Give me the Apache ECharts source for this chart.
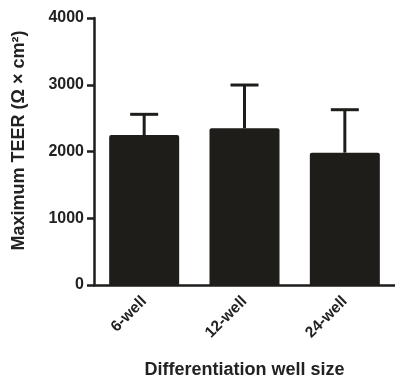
<!DOCTYPE html>
<html><head><meta charset="utf-8">
<script src="https://cdn.jsdelivr.net/npm/echarts@6/dist/echarts.min.js"></script>
<style>html,body{margin:0;padding:0;background:#fff}#c{width:395px;height:387px}</style>
</head><body><div id="c"></div>
<script>
const categories = ['6-well', '12-well', '24-well'];
const means = [2247, 2347, 1982];
const upperErr = [2557, 2996, 2626];
const yTicks = [0, 1000, 2000, 3000, 4000];

const dark = '#1f1d1a';
const chart = echarts.init(document.getElementById('c'));
chart.setOption({
  animation: false,
  grid: { left: 94, top: 18, width: 303, height: 267 },
  xAxis: {
    type: 'category', data: categories,
    name: 'Differentiation well size', nameLocation: 'middle', nameGap: 76,
    nameTextStyle: { fontFamily: 'Liberation Sans', fontWeight: 'bold', fontSize: 18, color: '#222' },
    axisLine: { lineStyle: { color: dark, width: 2.5 } },
    axisTick: { alignWithLabel: true, length: 6, lineStyle: { color: dark, width: 2.5 } },
    axisLabel: { rotate: 45, margin: 14, fontFamily: 'Liberation Sans', fontWeight: 'bold', fontSize: 15.5, color: '#222' }
  },
  yAxis: {
    type: 'value', min: 0, max: 4000, interval: 1000,
    name: 'Maximum TEER (Ω × cm²)', nameLocation: 'middle', nameGap: 66, nameRotate: 90,
    nameTextStyle: { fontFamily: 'Liberation Sans', fontWeight: 'bold', fontSize: 18, color: '#222', padding: [0, 0, 0, 22] },
    axisLine: { show: true, lineStyle: { color: dark, width: 2.5 } },
    axisTick: { show: true, length: 7, lineStyle: { color: dark, width: 2.5 } },
    splitLine: { show: false },
    axisLabel: { margin: 10, fontFamily: 'Liberation Sans', fontWeight: 'bold', fontSize: 16, color: '#222',
      formatter: v => yTicks.includes(v) ? String(v) : '' }
  },
  series: [
    { type: 'bar', data: means, barWidth: 70, itemStyle: { color: dark, borderRadius: [2, 2, 0, 0] }, z: 2 },
    {
      type: 'custom', z: 3,
      data: categories.map((c, i) => [i, means[i], upperErr[i]]),
      renderItem: function (params, api) {
        const base = api.coord([api.value(0), api.value(1)]);
        const top = api.coord([api.value(0), api.value(2)]);
        const st = { stroke: dark, lineWidth: 3 };
        return { type: 'group', children: [
          { type: 'line', shape: { x1: base[0], y1: base[1], x2: top[0], y2: top[1] }, style: st },
          { type: 'line', shape: { x1: top[0] - 14, y1: top[1], x2: top[0] + 14, y2: top[1] }, style: st }
        ]};
      }
    }
  ]
});
</script></body></html>
